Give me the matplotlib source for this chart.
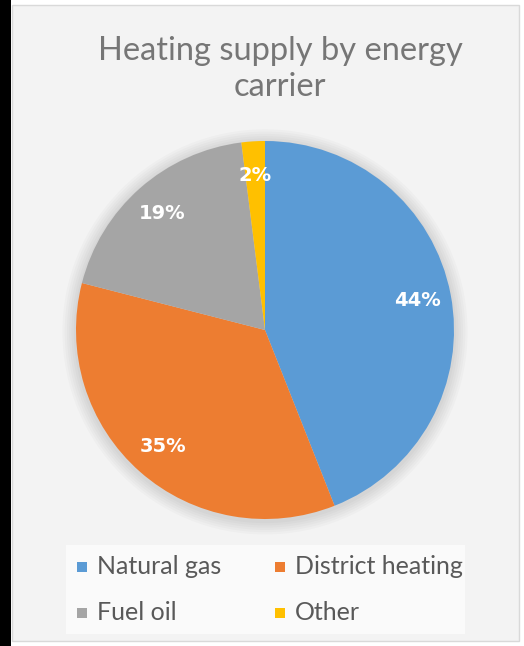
import matplotlib
matplotlib.use("Agg")
import matplotlib.pyplot as plt
from matplotlib.patches import Rectangle, Circle

categories = ["Natural gas", "District heating", "Fuel oil", "Other"]
shares = [44, 35, 19, 2]
colors = ["#5B9BD5", "#ED7D31", "#A5A5A5", "#FFC000"]
title = "Heating supply by energy\ncarrier"

W, H = 524, 646
fig = plt.figure(figsize=(W / 100, H / 100), dpi=100, facecolor="white")

def px_rect(x0, y0, x1, y1, z=-5, **kw):
    r = Rectangle((x0 / W, 1 - y1 / H), (x1 - x0) / W, (y1 - y0) / H,
                  transform=fig.transFigure, zorder=z, **kw)
    fig.add_artist(r)

# chart background and black strip on the left
px_rect(12, 5, 519, 641, z=-10, facecolor="#f3f3f3", edgecolor="#d9d9d9", lw=1.0)
px_rect(0, 0, 11, 646, z=-9, facecolor="black", edgecolor="none")
# legend background
px_rect(66, 545, 465, 634, z=-8, facecolor="#fafafa", edgecolor="none")

font = "Lato"

fig.text(280 / W, 1 - 69 / H, title, ha="center", va="center", fontsize=23.5,
         color="#767676", family=font, linespacing=1.28)

cx, cy, r = 265, 330, 189
ax = fig.add_axes([(cx - r) / W, 1 - (cy + r) / H, 2 * r / W, 2 * r / H])
ax.set_aspect("equal")
# soft shadow around the pie
for k in range(6):
    ax.add_patch(Circle((0.0, -0.01), 1.0 + 0.012 * (k + 1), facecolor="#000000",
                        alpha=0.018, edgecolor="none", zorder=0, clip_on=False))
wedges, texts, autotexts = ax.pie(
    shares, colors=colors, startangle=90, counterclock=False, radius=1,
    autopct=lambda p: f"{p:.0f}%", pctdistance=0.82,
    wedgeprops=dict(linewidth=0, zorder=2),
    textprops=dict(color="white", fontsize=14, fontweight="bold",
                   family="DejaVu Sans", zorder=3))
ax.set_xlim(-1, 1)
ax.set_ylim(-1, 1)
ax.axis("off")

# legend entries
pos = [(82, 567), (280, 567), (82, 613), (280, 613)]
for (lx, ly), name, c in zip(pos, categories, colors):
    px_rect(lx - 5, ly - 5, lx + 5, ly + 5, z=5, facecolor=c, edgecolor="none")
    fig.text((lx + 15) / W, 1 - ly / H, name, ha="left", va="center",
             fontsize=18, color="#595959", family=font)

fig.savefig("out.png", dpi=100, facecolor=fig.get_facecolor())
